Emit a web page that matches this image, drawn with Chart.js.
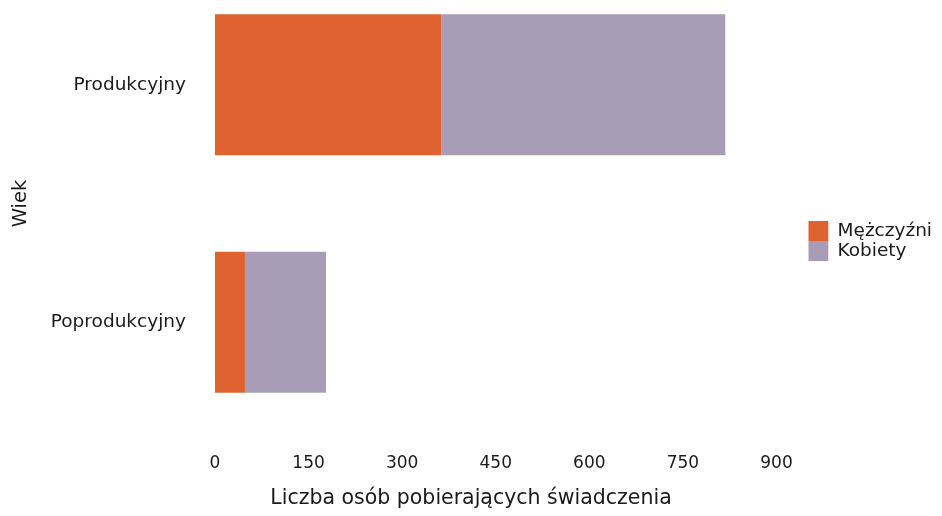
<!DOCTYPE html>
<html>
<head>
<meta charset="utf-8">
<script src="https://cdn.jsdelivr.net/npm/chart.js@4"></script>
<style>
  html, body { margin: 0; padding: 0; background: #fff; overflow: hidden; }
  #chart { position: absolute; left: 0; top: -34px; }
</style>
</head>
<body>
<canvas id="chart" width="942" height="550"></canvas>
<script>
// data
const categories = ['Produkcyjny', 'Poprodukcyjny'];
const men = [363, 48];
const women = [455, 130];
const xTicks = [0, 150, 300, 450, 600, 750, 900];

const textColor = '#1a1a1a';

const ctx = document.getElementById('chart').getContext('2d');
new Chart(ctx, {
    type: 'bar',
    data: {
        labels: categories,
        datasets: [
            {
                label: 'Mężczyźni',
                data: men,
                backgroundColor: '#DE6330', // orange
            },
            {
                label: 'Kobiety',
                data: women,
                backgroundColor: '#A99CB6', // grey-purple
            },
        ],
    },
    options: {
        indexAxis: 'y',
        responsive: false,
        animation: false,
        layout: { padding: { top: 0, right: 0, left: 0, bottom: 0 } },
        datasets: {
            bar: { categoryPercentage: 1, barPercentage: 0.594 },
        },
        plugins: {
            legend: {
                position: 'right',
                labels: {
                    boxWidth: 20,
                    boxHeight: 20,
                    padding: 0,
                    color: textColor,
                    font: { family: 'DejaVu Sans', size: 18.5 },
                },
            },
            title: {
                display: true,
                position: 'bottom',
                text: 'Liczba osób pobierających świadczenia',
                color: textColor,
                font: { family: 'DejaVu Sans', size: 20.5, weight: 'normal' },
                padding: { top: 1, bottom: 5 },
            },
            tooltip: { enabled: false },
        },
        scales: {
            x: {
                stacked: true,
                min: 0,
                max: 951,
                grid: { display: false, drawTicks: false },
                border: { display: false },
                afterBuildTicks: (scale) => {
                    scale.ticks = xTicks.map(v => ({ value: v }));
                },
                ticks: {
                    padding: 12,
                    color: textColor,
                    font: { family: 'DejaVu Sans', size: 17 },
                    maxRotation: 0,
                },
            },
            y: {
                stacked: true,
                grid: { display: false, drawTicks: false },
                border: { display: false },
                afterFit: (scale) => {
                    scale.width = 215;
                    scale.paddingTop = 0;
                    scale.paddingBottom = 0;
                },
                title: {
                    display: true,
                    text: 'Wiek',
                    color: textColor,
                    font: { family: 'DejaVu Sans', size: 19.5 },
                    padding: { top: 9, bottom: 0 },
                },
                ticks: {
                    padding: 29,
                    color: textColor,
                    font: { family: 'DejaVu Sans', size: 18.5 },
                },
            },
        },
    },
});
</script>
</body>
</html>
